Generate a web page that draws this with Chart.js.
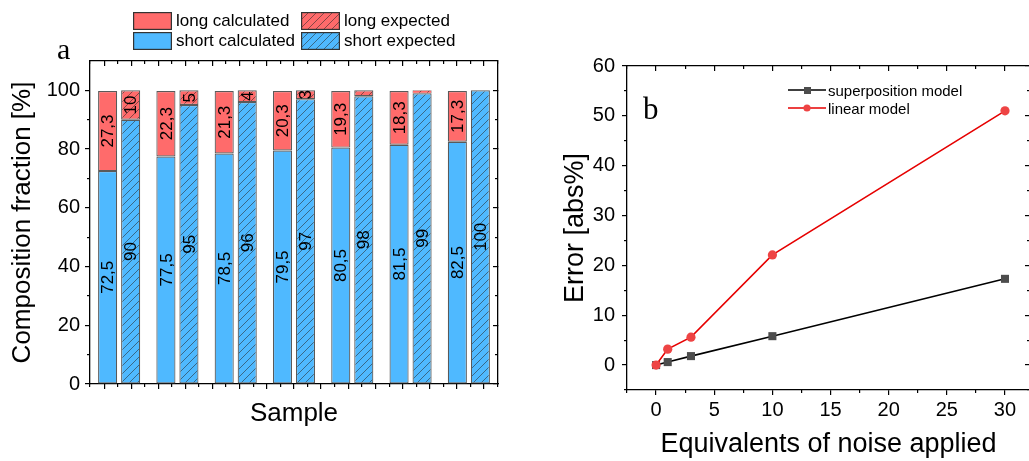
<!DOCTYPE html>
<html>
<head>
<meta charset="utf-8">
<script src="https://cdn.jsdelivr.net/npm/chart.js@4.4.1/dist/chart.umd.min.js"></script>
<style>
  html, body { margin: 0; padding: 0; background: #fff; overflow: hidden; }
  #wrap { position: relative; width: 1029px; height: 461px; overflow: hidden; }
  #wrap > canvas { position: absolute; top: 0; }
  #barChart { left: 0; }
  #errChart { left: 530px; }
  .panel { position: absolute; font-family: "Liberation Serif", serif; color: #000; line-height: 1; }
  .key { position: absolute; display: flex; align-items: center; white-space: nowrap;
         font-family: "Liberation Sans", Arial, sans-serif; color: #000; }
  .key canvas { display: block; }
</style>
</head>
<body>
<div id="wrap">
  <canvas id="barChart" width="500" height="461"></canvas>
  <canvas id="errChart" width="500" height="461"></canvas>
  <div class="panel" style="left:57px; top:34px; font-size:30px;">a</div>
  <div class="panel" style="left:643px; top:93px; font-size:31px;">b</div>
  <div id="barKeys"></div>
  <div id="lineKeys"></div>
</div>
<script>
// composition per sample: calculated vs expected, short and long fractions
const samples = ['1', '2', '3', '4', '5', '6', '7'];
const shortCalculated = [72.5, 77.5, 78.5, 79.5, 80.5, 81.5, 82.5];
const longCalculated = [27.3, 22.3, 21.3, 20.3, 19.3, 18.3, 17.3];
const shortExpected = [90, 95, 96, 97, 98, 99, 100];
const longExpected = [10, 5, 4, 3, 2, 1, 0];
const barSeries = ['long calculated', 'long expected', 'short calculated', 'short expected'];
const fractionTicks = [0, 20, 40, 60, 80, 100];
const fractionMinor = [10, 30, 50, 70, 90];

// error of the two models against the amount of noise
const noise = [0, 1, 3, 10, 30];
const superpositionError = [0, 0.6, 1.8, 5.8, 17.3];
const linearError = [0, 3.2, 5.6, 22.1, 51];
const lineSeries = ['superposition model', 'linear model'];
const errorTicks = [0, 10, 20, 30, 40, 50, 60];
const errorMinor = [-5, 5, 15, 25, 35, 45, 55];
const noiseTicks = [0, 5, 10, 15, 20, 25, 30];
const noiseMinor = [-2.5, 2.5, 7.5, 12.5, 17.5, 22.5, 27.5];

Chart.defaults.font.family = '"Liberation Sans", Arial, sans-serif';
Chart.defaults.color = '#000';

const RED = '#ff6b6b';
const BLUE = '#4fb9ff';
const EDGE = '#5a5a5a';

function hatch(color) {
  const c = document.createElement('canvas');
  c.width = c.height = 8;
  const g = c.getContext('2d');
  g.fillStyle = color;
  g.fillRect(0, 0, 8, 8);
  g.strokeStyle = 'rgba(40,40,40,0.8)';
  g.lineWidth = 0.7;
  g.beginPath();
  g.moveTo(0, 8); g.lineTo(8, 0);
  g.moveTo(-1, 1); g.lineTo(1, -1);
  g.moveTo(7, 9); g.lineTo(9, 7);
  g.stroke();
  return g.createPattern(c, 'repeat');
}

// an axis that only draws tick marks (negative length = inward)
function tickAxis(position, min, max, values, len, spine) {
  const horiz = position === 'top' || position === 'bottom';
  return {
    type: 'linear', position, min, max, weight: 0,
    afterBuildTicks: s => { s.ticks = values.map(v => ({ value: v })); },
    afterFit: s => { if (horiz) s.height = 0; else s.width = 0; },
    grid: { drawOnChartArea: false, tickLength: len, color: '#000', lineWidth: 1.2 },
    border: { display: !!spine, color: '#000', width: 1.3 },
    ticks: { display: false }
  };
}

// numbers written inside the bar segments, rotated
const segmentLabels = {
  id: 'segmentLabels',
  afterDatasetsDraw(chart) {
    const ctx = chart.ctx;
    ctx.save();
    ctx.font = '17px "Liberation Sans", Arial, sans-serif';
    ctx.fillStyle = '#000';
    ctx.textAlign = 'center';
    ctx.textBaseline = 'middle';
    chart.data.datasets.forEach((ds, i) => {
      chart.getDatasetMeta(i).data.forEach((bar, j) => {
        const v = ds.data[j];
        if (v < 3) return;
        const { x, y, base } = bar.getProps(['x', 'y', 'base'], true);
        ctx.save();
        ctx.translate(x + 1, (y + base) / 2);
        ctx.rotate(-Math.PI / 2);
        ctx.fillText(String(v).replace('.', ','), 0, 0);
        ctx.restore();
      });
    });
    ctx.restore();
  }
};

const redHatch = hatch(RED);
const blueHatch = hatch(BLUE);
const barFill = [RED, redHatch, BLUE, blueHatch];
const barCommon = {
  borderColor: EDGE,
  // thin slices keep their colour visible, empty ones draw nothing
  borderWidth: c => (c.raw === 0 ? 0 : c.raw < 2 ? 0.5 : 1.2),
  borderSkipped: false,
  categoryPercentage: 0.79, barPercentage: 0.83,
  xAxisID: 'x', yAxisID: 'y'
};

const groupTicks = [], groupMinor = [];
samples.forEach((s, i) => {
  groupTicks.push(i + 0.25, i + 0.75);
  groupMinor.push(i, i + 0.5);
});
groupMinor.push(samples.length);

new Chart(document.getElementById('barChart'), {
  type: 'bar',
  data: {
    labels: samples,
    datasets: [
      { ...barCommon, label: barSeries[2], data: shortCalculated, stack: 'calculated', backgroundColor: BLUE },
      { ...barCommon, label: barSeries[0], data: longCalculated, stack: 'calculated', backgroundColor: RED },
      { ...barCommon, label: barSeries[3], data: shortExpected, stack: 'expected', backgroundColor: blueHatch },
      { ...barCommon, label: barSeries[1], data: longExpected, stack: 'expected', backgroundColor: redHatch }
    ]
  },
  options: {
    responsive: false,
    animation: false,
    layout: { autoPadding: false, padding: { top: 61, right: 2, left: 0, bottom: 0 } },
    plugins: { legend: { display: false }, tooltip: { enabled: false } },
    scales: {
      x: {
        type: 'category', stacked: true, position: 'bottom', weight: 1,
        afterFit: s => { s.height = 77; },
        grid: { display: false },
        border: { display: true, color: '#000', width: 1.3 },
        ticks: { display: false },
        title: { display: true, text: 'Sample', font: { size: 26 }, padding: { top: 0, bottom: 32 } }
      },
      y: {
        type: 'linear', stacked: true, position: 'left', min: 0, max: 110, weight: 1,
        afterBuildTicks: s => { s.ticks = fractionTicks.map(v => ({ value: v })); },
        afterFit: s => { s.width = 90; },
        grid: { drawOnChartArea: false, tickLength: 5, color: '#000', lineWidth: 1.2 },
        border: { display: true, color: '#000', width: 1.3 },
        ticks: { font: { size: 20 }, padding: 5, color: '#000' },
        title: { display: true, text: 'Composition fraction [%]', font: { size: 26 }, padding: { top: 7, bottom: 0 } }
      },
      yMinor: tickAxis('left', 0, 110, fractionMinor, 3),
      yRight: tickAxis('right', 0, 110, fractionTicks, -5, true),
      yRightMinor: tickAxis('right', 0, 110, fractionMinor, -3),
      xMajor: tickAxis('bottom', 0, samples.length, groupTicks, 5),
      xMinor: tickAxis('bottom', 0, samples.length, groupMinor, 3),
      xTop: tickAxis('top', 0, samples.length, groupTicks, -5, true),
      xTopMinor: tickAxis('top', 0, samples.length, groupMinor, -3)
    }
  },
  plugins: [segmentLabels]
});

const BLACK_LINE = '#000000';
const SQUARE = '#4d4d4d';
const RED_LINE = '#e60000';
const DOT = '#ee4444';

new Chart(document.getElementById('errChart'), {
  type: 'line',
  data: {
    datasets: [
      {
        label: lineSeries[0], order: 1,
        data: noise.map((x, i) => ({ x, y: superpositionError[i] })),
        borderColor: BLACK_LINE, borderWidth: 1.6,
        pointStyle: 'rect', pointRadius: 5.7, pointBorderWidth: 0,
        pointBackgroundColor: SQUARE, pointBorderColor: SQUARE,
        xAxisID: 'x', yAxisID: 'y'
      },
      {
        label: lineSeries[1], order: 0,
        data: noise.map((x, i) => ({ x, y: linearError[i] })),
        borderColor: RED_LINE, borderWidth: 1.6,
        pointStyle: 'circle', pointRadius: 4.6, pointBorderWidth: 0,
        pointBackgroundColor: DOT, pointBorderColor: DOT,
        xAxisID: 'x', yAxisID: 'y'
      }
    ]
  },
  options: {
    responsive: false,
    animation: false,
    layout: { autoPadding: false, padding: { top: 66, right: 0, left: 0, bottom: 0 } },
    plugins: { legend: { display: false }, tooltip: { enabled: false } },
    scales: {
      x: {
        type: 'linear', position: 'bottom', min: -2.5, max: 32.15, weight: 1,
        afterBuildTicks: s => { s.ticks = noiseTicks.map(v => ({ value: v })); },
        afterFit: s => { s.height = 71; },
        grid: { drawOnChartArea: false, tickLength: 5, color: '#000', lineWidth: 1.2 },
        border: { display: true, color: '#000', width: 1.3 },
        ticks: { font: { size: 20 }, padding: 3, color: '#000', maxRotation: 0 },
        title: { display: true, text: 'Equivalents of noise applied', font: { size: 27 }, padding: { top: 0, bottom: 0 } }
      },
      y: {
        type: 'linear', position: 'left', min: -5, max: 60, weight: 1,
        afterBuildTicks: s => { s.ticks = errorTicks.map(v => ({ value: v })); },
        afterFit: s => { s.width = 97; },
        grid: { drawOnChartArea: false, tickLength: 5, color: '#000', lineWidth: 1.2 },
        border: { display: true, color: '#000', width: 1.3 },
        ticks: { font: { size: 20 }, padding: 7, color: '#000' },
        title: { display: true, text: 'Error [abs%]', font: { size: 27 }, padding: { top: 29, bottom: 0 } }
      },
      yMinor: tickAxis('left', -5, 60, errorMinor, 3),
      yRight: tickAxis('right', -5, 60, errorTicks, -5, true),
      yRightMinor: tickAxis('right', -5, 60, errorMinor, -3),
      xMinor: tickAxis('bottom', -2.5, 32.15, noiseMinor, 3),
      xTop: tickAxis('top', -2.5, 32.15, noiseTicks, -5, true),
      xTopMinor: tickAxis('top', -2.5, 32.15, noiseMinor, -3)
    }
  }
});

// legend above the bar panel: 2 x 2 grid
const barKeyPos = [[133, 12], [301, 12], [133, 32], [301, 32]];
const barKeys = document.getElementById('barKeys');
barSeries.forEach((name, i) => {
  const item = document.createElement('div');
  item.className = 'key';
  item.style.left = barKeyPos[i][0] + 'px';
  item.style.top = barKeyPos[i][1] + 'px';
  item.style.height = '18px';
  item.style.fontSize = '17px';
  const sw = document.createElement('canvas');
  sw.width = 39; sw.height = 18;
  const g = sw.getContext('2d');
  g.fillStyle = barFill[i];
  g.fillRect(0, 0, 39, 18);
  g.strokeStyle = '#333';
  g.lineWidth = 1.2;
  g.strokeRect(0.6, 0.6, 37.8, 16.8);
  const label = document.createElement('span');
  label.textContent = name;
  label.style.marginLeft = '4px';
  item.appendChild(sw);
  item.appendChild(label);
  barKeys.appendChild(item);
});

// legend inside the error panel
const lineKeyPos = [[788, 81], [788, 99]];
const lineColors = [[BLACK_LINE, SQUARE, 'rect'], [RED_LINE, DOT, 'circle']];
const lineKeys = document.getElementById('lineKeys');
lineSeries.forEach((name, i) => {
  const item = document.createElement('div');
  item.className = 'key';
  item.style.left = lineKeyPos[i][0] + 'px';
  item.style.top = lineKeyPos[i][1] + 'px';
  item.style.height = '18px';
  item.style.fontSize = '15px';
  const sw = document.createElement('canvas');
  sw.width = 38; sw.height = 18;
  const g = sw.getContext('2d');
  const [lc, mc, shape] = lineColors[i];
  g.strokeStyle = lc;
  g.lineWidth = 1.6;
  g.beginPath(); g.moveTo(0, 9); g.lineTo(38, 9); g.stroke();
  g.fillStyle = mc;
  if (shape === 'rect') g.fillRect(16, 6, 7, 7);
  else { g.beginPath(); g.arc(19, 9, 3.6, 0, Math.PI * 2); g.fill(); }
  const label = document.createElement('span');
  label.textContent = name;
  label.style.marginLeft = '2px';
  item.appendChild(sw);
  item.appendChild(label);
  lineKeys.appendChild(item);
});
</script>
</body>
</html>
